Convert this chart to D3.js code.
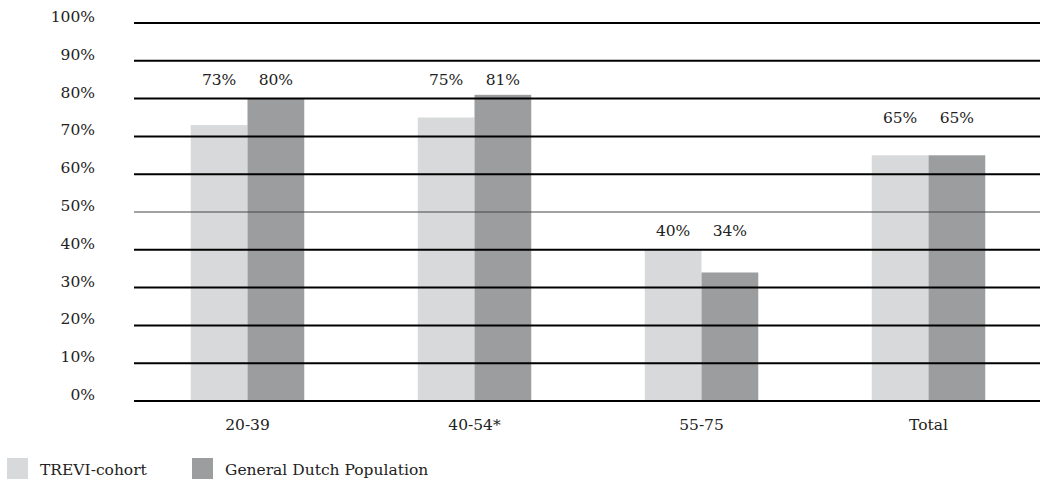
<!DOCTYPE html>
<meta charset="utf-8">
<style>
    body { margin: 0; background: #fff; }
    text { font-family: "DejaVu Serif", serif; font-size: 15.5px; fill: #222; }
    .grid line { stroke: #000; stroke-width: 2px; }
    .grid line.thin { stroke: #444; stroke-width: 1px; }
</style>
<svg width="1045" height="484"></svg>
<script src="https://d3js.org/d3.v7.min.js"></script>
<script>
    var categories = ["20-39", "40-54*", "55-75", "Total"];
    var seriesNames = ["TREVI-cohort", "General Dutch Population"];
    var trevi = [73, 75, 40, 65];
    var dutch = [80, 81, 34, 65];
    var labelLevel = [85, 85, 45, 75];   // where the value labels sit, in %
    var yTicks = [0, 10, 20, 30, 40, 50, 60, 70, 80, 90, 100];
    var colors = ["#d8d9da", "#9c9d9f"];

    var svg = d3.select("svg");
    var mLeft = 134, mRight = 1042, mTop = 23, mBottom = 401;

    var x = d3.scaleBand().domain(categories).range([mLeft, mRight]).paddingInner(0).paddingOuter(0);
    var xs = d3.scaleBand().domain(seriesNames).range([0, x.bandwidth()]).paddingInner(0).paddingOuter(1);
    var y = d3.scaleLinear().domain([0, 100]).range([mBottom, mTop]);

    var rows = categories.map(function (c, i) {
        return { cat: c, values: [trevi[i], dutch[i]], lvl: labelLevel[i] };
    });

    // bars
    var g = svg.selectAll(".grp").data(rows).enter().append("g")
        .attr("class", "grp")
        .attr("transform", function (d) { return "translate(" + x(d.cat) + ",0)"; });

    g.selectAll("rect")
        .data(function (d) { return d.values.map(function (v, j) { return { s: seriesNames[j], v: v, j: j }; }); })
        .enter().append("rect")
        .attr("x", function (d) { return xs(d.s); })
        .attr("width", xs.bandwidth())
        .attr("y", function (d) { return y(d.v); })
        .attr("height", function (d) { return mBottom - y(d.v); })
        .style("fill", function (d) { return colors[d.j]; });

    // value labels, one row per group
    g.each(function (d) {
        d3.select(this).selectAll("text.val")
            .data(d.values)
            .enter().append("text")
            .attr("class", "val")
            .attr("x", function (v, j) { return xs(seriesNames[j]) + xs.bandwidth() / 2; })
            .attr("y", y(d.lvl))
            .attr("dy", "0.35em")
            .attr("text-anchor", "middle")
            .text(function (v) { return v + "%"; });
    });

    // gridlines over the bars
    var grid = svg.append("g").attr("class", "grid");
    grid.selectAll("line").data(yTicks).enter().append("line")
        .attr("class", function (d) { return d === 50 ? "thin" : null; })
        .attr("x1", mLeft).attr("x2", mRight - 2)
        .attr("y1", function (d) { return y(d); })
        .attr("y2", function (d) { return y(d); });

    // y labels
    svg.append("g").selectAll("text").data(yTicks).enter().append("text")
        .attr("x", 95)
        .attr("y", function (d) { return y(d) - 1; })
        .attr("text-anchor", "end")
        .text(function (d) { return d + "%"; });

    // x labels
    svg.append("g").selectAll("text").data(categories).enter().append("text")
        .attr("x", function (d) { return x(d) + x.bandwidth() / 2; })
        .attr("y", 430)
        .attr("text-anchor", "middle")
        .text(function (d) { return d; });

    // legend
    var legX = [7, 192];
    var leg = svg.append("g").selectAll("g").data(seriesNames).enter().append("g")
        .attr("transform", function (d, i) { return "translate(" + legX[i] + ",458)"; });
    leg.append("rect").attr("width", 21).attr("height", 21)
        .style("fill", function (d, i) { return colors[i]; });
    leg.append("text").attr("x", 33).attr("y", 17).text(function (d) { return d; });
</script>
